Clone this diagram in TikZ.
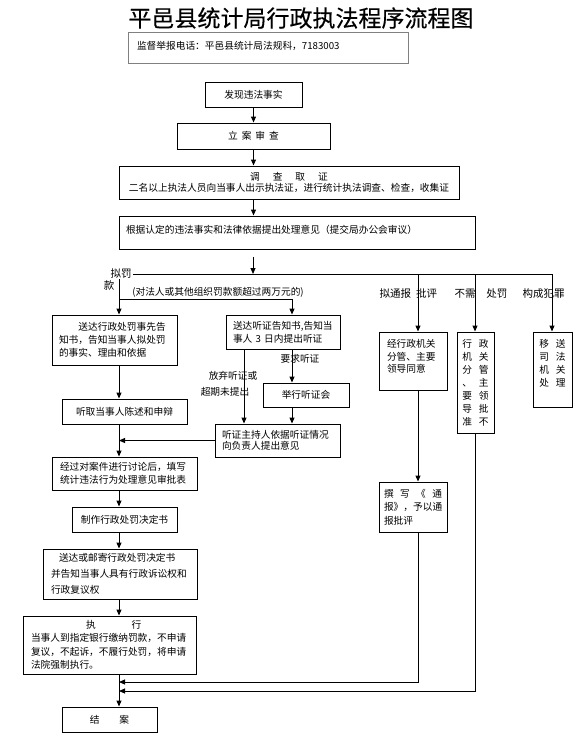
\documentclass[tikz,border=0pt]{standalone}
\usepackage{fontspec}
\setmainfont{Noto Sans CJK SC}
\newfontfamily\titlefont[FakeBold=0.4]{Noto Sans CJK SC}
\usetikzlibrary{positioning, arrows.meta, calc}
\tikzset{
x=1pt, y=-1pt, % one unit is one pixel, y grows downwards
>={Triangle[width=5pt,length=6pt]}, % small filled arrow heads
box/.style={draw, line width=1pt, inner sep=0pt, align=center, font=\fontsize{9.7}{13}\selectfont}, % the boxes of the chart
sz/.style 2 args={minimum width=#1pt, minimum height=#2pt}, % box size in pixels
lbl/.style={inner sep=0pt, font=\fontsize{9.7}{12}\selectfont}, % texts beside the connectors
big/.style={font=\fontsize{10.5}{12}\selectfont}, % the larger branch texts
}

\begin{document}
\begin{tikzpicture}[line width=1pt]
    \useasboundingbox (0,0) rectangle (588,740);
    % title and header
    \node[font=\titlefont\fontsize{23}{23}\selectfont, inner sep=0pt] (title) at (301,18) {平邑县统计局行政执法程序流程图};
    \node[box, draw=gray, sz={280}{31}, text width=262pt, inner xsep=9pt, align=left] (tel) at (268,47.5) {监督举报电话：平邑县统计局法规科，7183003\\[-8pt]\mbox{}};

    % main column
    \node[box, sz={97}{25}] (find) at (253.5,94.5) {发现违法事实};
    \node[box, sz={153}{26}] (file) at (253.5,136) {立\hspace{4pt}案\hspace{4pt}审\hspace{4pt}查};
    \node[box, sz={340}{33}, font=\fontsize{9.7}{11}\selectfont] (probe) at (289,182.5) {调\hspace{13pt}查\hspace{13pt}取\hspace{13pt}证\\二名以上执法人员向当事人出示执法证，进行统计执法调查、检查，收集证};
    \node[box, sz={356}{33}, text width=342pt, inner xsep=7pt, align=left] (opinion) at (297,232.5) {根据认定的违法事实和法律依据提出处理意见（提交局办公会审议）\\[-6pt]\mbox{}};

    % fine branch
    \node[box, sz={125}{50}, text width=111pt, inner xsep=7pt, align=left] (notice) at (114.5,340) {\hspace*{19.4pt}送达行政处罚事先告\\知书，告知当事人拟处罚\\的事实、理由和依据};
    \node[box, sz={114}{34}, text width=100pt, inner xsep=7pt, align=left] (hearing) at (283,332) {送达听证告知书,告知当\\事人 3 日内提出听证};
    \node[box, sz={125}{25}] (listen) at (124.5,411.5) {听取当事人陈述和申辩};
    \node[box, sz={86}{24}] (meet) at (306,395) {举行听证会};
    \node[box, sz={125}{33}, text width=111pt, inner xsep=7pt, align=left, font=\fontsize{9.7}{11.5}\selectfont] (host) at (277.5,440.5) {听证主持人依据听证情况\\向负责人提出意见};
    \node[box, sz={145}{33}, text width=129pt, inner xsep=8pt, align=left] (discuss) at (124.5,473.5) {经过对案件进行讨论后，填写\\统计违法行为处理意见审批表};
    \node[box, sz={105}{25}] (decide) at (124.5,519.5) {制作行政处罚决定书};
    \node[box, sz={154}{50}, text width=138pt, inner xsep=8pt, align=left, font=\fontsize{9.7}{16}\selectfont] (deliver) at (120,574) {\hspace*{8pt}送达或邮寄行政处罚决定书\\并告知当事人具有行政诉讼权和\\行政复议权};
    \node[box, sz={173}{58}, text width=157pt, inner xsep=8pt, align=left, font=\fontsize{9.7}{13.5}\selectfont] (execute) at (109.5,645) {\hspace*{55pt}执\hspace{36pt}行\\当事人到指定银行缴纳罚款，不申请\\复议，不起诉，不履行处罚，将申请\\法院强制执行。};
    \node[box, sz={95}{25}] (close) at (109.5,719.5) {结\hspace{20pt}案};

    % report, no penalty, crime
    \node[box, sz={68}{58}, text width=52pt, inner xsep=8pt, align=left, font=\fontsize{9.7}{12.5}\selectfont] (agree) at (413,361) {经行政机关\\分管、主要\\领导同意\\[-3pt]\mbox{}};
    \node[box, sz={37}{101}] (approve) at (475.5,382.5) {行\hspace{7pt}政\\机\hspace{7pt}关\\分\hspace{7pt}管\\、\hspace{7pt}主\\要\hspace{7pt}领\\导\hspace{7pt}批\\准\hspace{7pt}不};
    \node[box, sz={39}{75}] (transfer) at (552.5,369.5) {移\hspace{7pt}送\\司\hspace{7pt}法\\机\hspace{7pt}关\\处\hspace{7pt}理\\\mbox{}};
    \node[box, sz={68}{50}, text width=58pt, inner xsep=5pt, align=left, font=\fontsize{9.7}{13.5}\selectfont] (report) at (413,507) {\makebox[58pt]{撰\hfill 写\hfill 《\hfill 通}\\报》，予以通\\报批评};

    % connector ends
    \coordinate (gap) at (253,257);
    \coordinate (split) at (253,274);
    \coordinate (col) at (119,274);
    \coordinate (fork) at (119,299);
    \coordinate (hx) at (292,0);
    \coordinate (ax) at (244,0);
    \coordinate (c1) at (418,274);
    \coordinate (c2) at (475,274);
    \coordinate (c3) at (552,274);
    \coordinate (back1) at (418,682);
    \coordinate (back2) at (475,691);

    \draw[->] (find) -- (file);
    \draw[->] (file.south) -- (file.south |- probe.north);
    \draw[->] (file.south |- probe.south) -- (file.south |- opinion.north);
    \draw[->] (gap) -- (split);
    \draw (col) -- (c3);
    \draw[->] (col) -- (col |- notice.north);
    \draw[->] (fork) -| (hx |- hearing.north);
    \draw[->] (notice.south -| col) -- (listen.north -| col);
    \draw[->] (listen.south -| col) -- (discuss.north -| col);
    \draw[->] (host.west) -- (host.west -| col);
    \draw[->] (hx |- hearing.south) -- (hx |- meet.north);
    \draw[->] (hx |- meet.south) -- (hx |- host.north);
    \draw[->] (ax |- hearing.south) -- (ax |- host.north);
    \draw[->] (discuss.south -| col) -- (decide.north -| col);
    \draw[->] (decide.south -| col) -- (deliver.north -| col);
    \draw[->] (deliver.south -| col) -- (execute.north -| col);
    \draw[->] (execute.south -| col) -- (close.north -| col);
    \draw[->] (c1) -- (c1 |- agree.north);
    \draw[->] (c2) -- (c2 |- approve.north);
    \draw[->] (c3) -- (c3 |- transfer.north);
    \draw[->] (agree.south -| c1) -- (report.north -| c1);
    \draw[->] (report.south -| c1) -- (back1) -- (back1 -| col);
    \draw[->] (approve.south -| c2) -- (back2) -- (back2 -| col);

    % texts on the branches
    \node[lbl, big, fill=white, inner sep=1pt] (fine) at (121,273) {拟罚};
    \node[lbl, big] (fine2) at (109,286) {款};
    \node[lbl] (over) at (218,292) {(对法人或其他组织罚款额超过两万元的)};
    \node[lbl] (ask) at (300,359) {要求听证};
    \node[lbl] (drop1) at (233,376) {放弃听证或};
    \node[lbl] (drop2) at (225,392) {超期未提出};
    \node[lbl, big, anchor=west] (crit) at (379,294) {拟通报\hspace{5pt}批评};
    \node[lbl, big, anchor=west] (nopen) at (454,294) {不需\hspace{11pt}处罚};
    \node[lbl, big, anchor=west] (crime) at (522,294) {构成犯罪};
\end{tikzpicture}
\end{document}
